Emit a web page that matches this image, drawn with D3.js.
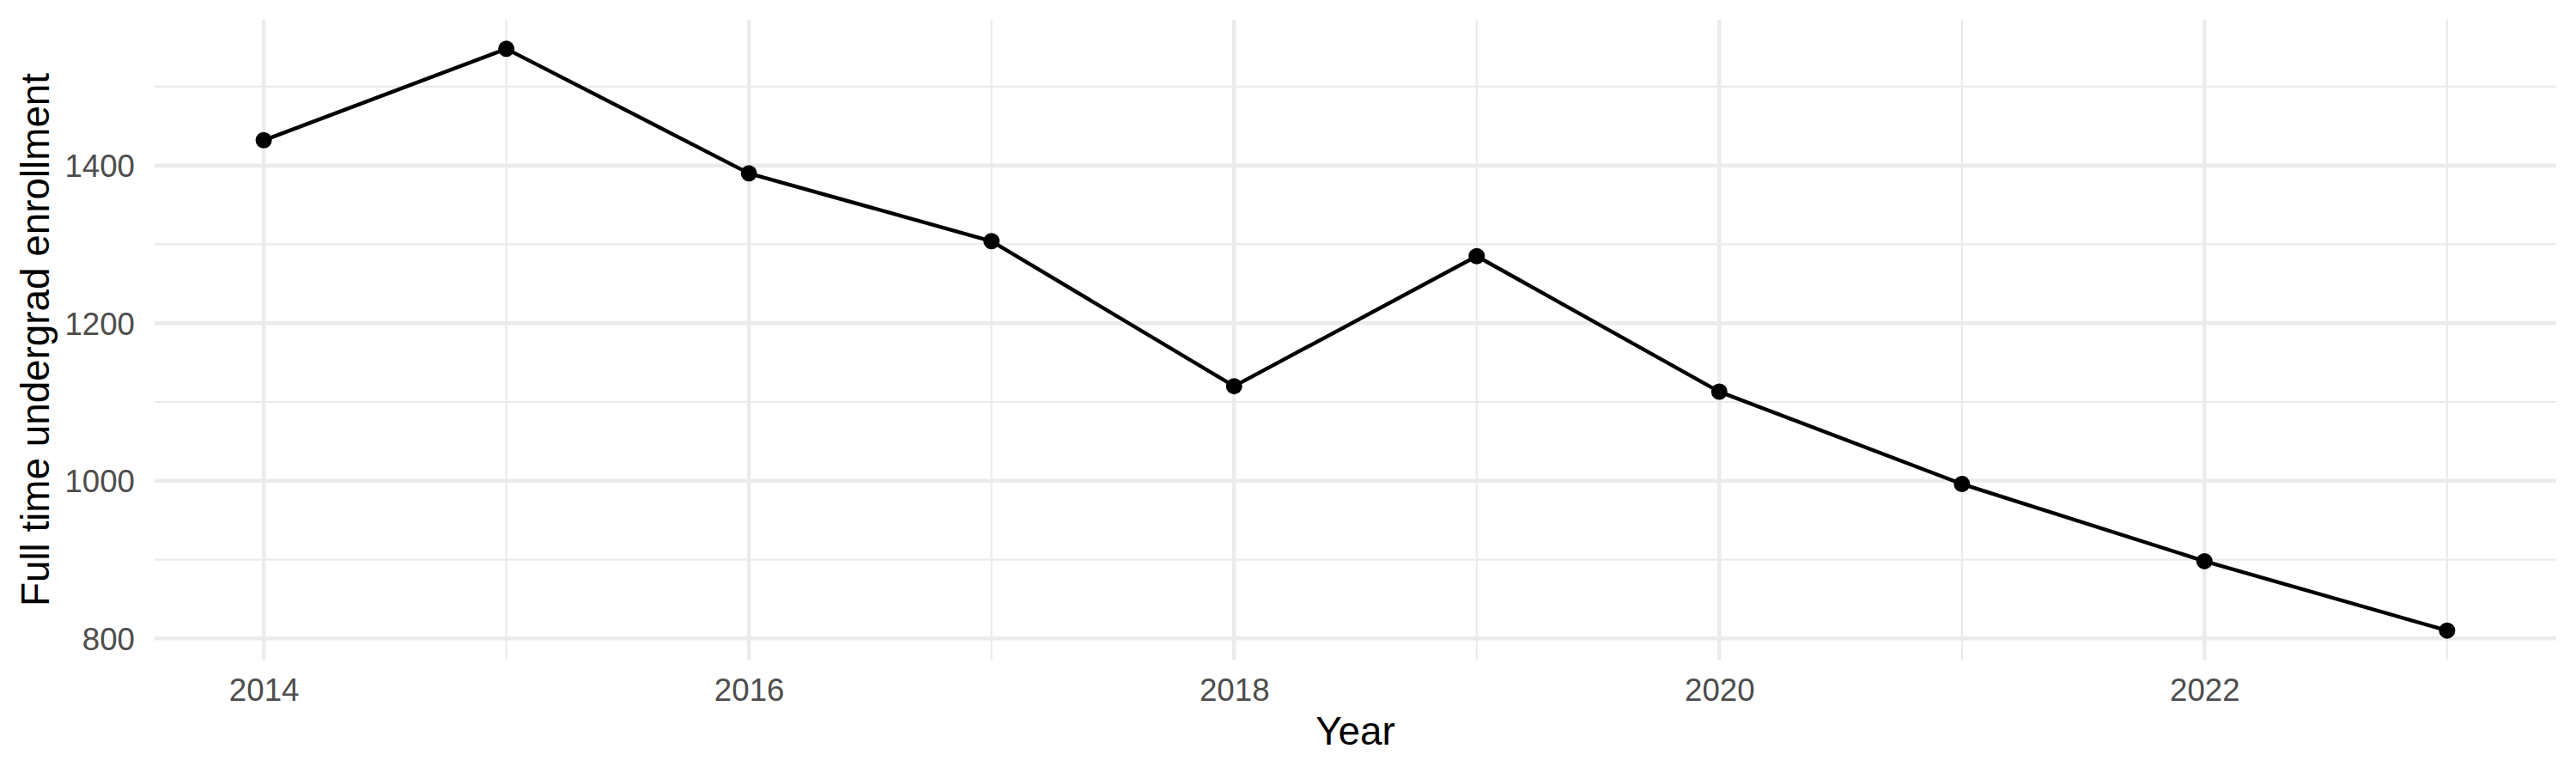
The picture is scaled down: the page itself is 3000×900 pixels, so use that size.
<!DOCTYPE html>
<html>
<head>
<meta charset="utf-8">
<script src="https://cdnjs.cloudflare.com/ajax/libs/d3/7.8.5/d3.min.js"></script>
<style>
  body { margin: 0; background: white; }
  text { font-family: "Liberation Sans", Arial, Helvetica, sans-serif; }
</style>
</head>
<body>
<div id="chart"></div>
<script>

/*data*/
var years = [2014, 2015, 2016, 2017, 2018, 2019, 2020, 2021, 2022, 2023];
var enrollment = [1432, 1548, 1390, 1304, 1120, 1285, 1113, 996, 898, 810];
var xMajor = [2014, 2016, 2018, 2020, 2022];
var xMinor = [2015, 2017, 2019, 2021, 2023];
var yMajor = [800, 1000, 1200, 1400];
var yMinor = [900, 1100, 1300, 1500];

// note: "top" is taken by window.top, so panel edges get their own names
var width = 3000,
    height = 900,
    panelLeft = 180,
    panelRight = 2977,
    panelTop = 23,
    panelBottom = 768;

var svg = d3.select("#chart")
        .append("svg")
        .attr("width", width)
        .attr("height", height);

// ggplot style 5% padding on both axes
var xPad = (d3.max(years) - d3.min(years)) * 0.05;
var yPad = (d3.max(enrollment) - d3.min(enrollment)) * 0.05;

var x = d3.scaleLinear()
    .domain([d3.min(years) - xPad, d3.max(years) + xPad])
    .range([panelLeft, panelRight]);

var y = d3.scaleLinear()
    .domain([d3.min(enrollment) - yPad, d3.max(enrollment) + yPad])
    .range([panelBottom, panelTop]);

/*grid*/
var grid = svg.append("g").attr("stroke", "#ebebeb").attr("fill", "none");

grid.selectAll(".yminor").data(yMinor).enter().append("line")
    .attr("x1", panelLeft).attr("x2", panelRight)
    .attr("y1", function(d){ return y(d); })
    .attr("y2", function(d){ return y(d); })
    .attr("stroke-width", 2.2);

grid.selectAll(".xminor").data(xMinor).enter().append("line")
    .attr("y1", panelTop).attr("y2", panelBottom)
    .attr("x1", function(d){ return x(d); })
    .attr("x2", function(d){ return x(d); })
    .attr("stroke-width", 2.2);

grid.selectAll(".ymajor").data(yMajor).enter().append("line")
    .attr("x1", panelLeft).attr("x2", panelRight)
    .attr("y1", function(d){ return y(d); })
    .attr("y2", function(d){ return y(d); })
    .attr("stroke-width", 4.4);

grid.selectAll(".xmajor").data(xMajor).enter().append("line")
    .attr("y1", panelTop).attr("y2", panelBottom)
    .attr("x1", function(d){ return x(d); })
    .attr("x2", function(d){ return x(d); })
    .attr("stroke-width", 4.4);

/*axes, only the labels are kept*/
var xAxis = svg.append("g")
    .attr("transform", "translate(0," + panelBottom + ")")
    .call(d3.axisBottom(x).tickValues(xMajor).tickFormat(d3.format("d")).tickSize(0));
xAxis.select(".domain").remove();
xAxis.selectAll("text")
    .attr("fill", "#4d4d4d")
    .style("font-size", "36.7px")
    .attr("dy", null)
    .attr("y", 48);

var yAxis = svg.append("g")
    .attr("transform", "translate(" + panelLeft + ",0)")
    .call(d3.axisLeft(y).tickValues(yMajor).tickFormat(d3.format("d")).tickSize(0).tickPadding(23));
yAxis.select(".domain").remove();
yAxis.selectAll("text")
    .attr("fill", "#4d4d4d")
    .style("font-size", "36.7px")
    .attr("dy", "0.36em");

/*line and points*/
var pts = years.map(function(d, i){ return [d, enrollment[i]]; });

svg.append("path")
    .datum(pts)
    .attr("fill", "none")
    .attr("stroke", "black")
    .attr("stroke-width", 4.4)
    .attr("stroke-linejoin", "round")
    .attr("d", d3.line()
        .x(function(d){ return x(d[0]); })
        .y(function(d){ return y(d[1]); }));

svg.selectAll(".pt").data(pts).enter().append("circle")
    .attr("cx", function(d){ return x(d[0]); })
    .attr("cy", function(d){ return y(d[1]); })
    .attr("r", 9.5)
    .attr("fill", "black");

/*titles*/
svg.append("text")
    .attr("x", (panelLeft + panelRight) / 2)
    .attr("y", 867)
    .attr("text-anchor", "middle")
    .style("font-size", "45.8px")
    .attr("fill", "black")
    .text("Year");

svg.append("text")
    .attr("transform", "translate(57," + ((panelTop + panelBottom) / 2) + ") rotate(-90)")
    .attr("text-anchor", "middle")
    .style("font-size", "45.8px")
    .attr("fill", "black")
    .text("Full time undergrad enrollment");

</script>
</body>
</html>
